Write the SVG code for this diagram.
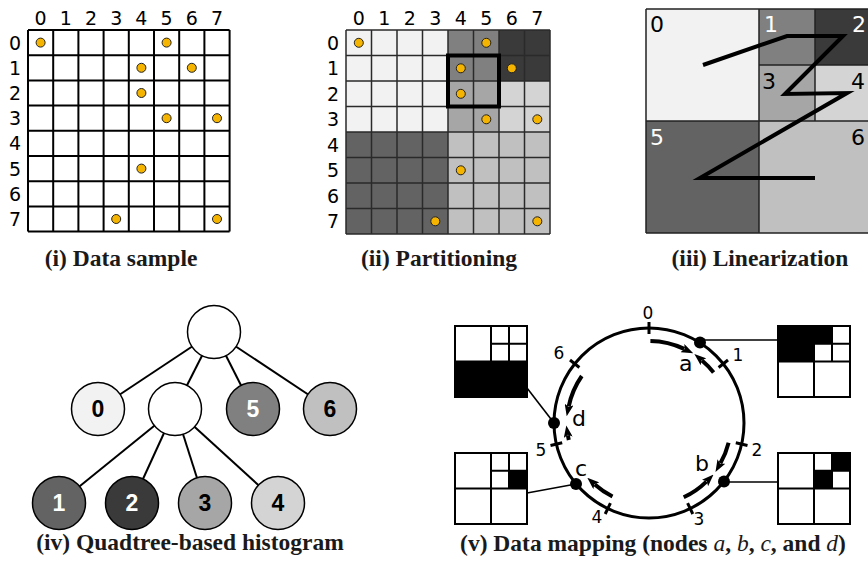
<svg xmlns="http://www.w3.org/2000/svg" width="868" height="568" viewBox="0 0 868 568">
<style>
.lbl{font-family:"DejaVu Sans",sans-serif;font-size:19px;fill:#000;text-anchor:middle}
.cap{font-family:"Liberation Serif","Times New Roman",serif;font-size:23.5px;font-weight:bold;fill:#1a1a1a;text-anchor:middle}
.dot{fill:#f5b400;stroke:#222;stroke-width:1}
.tn{stroke:#000;stroke-width:1.5}
.tt{font-family:"Liberation Sans",Arial,sans-serif;font-weight:bold;font-size:23px;text-anchor:middle}
.edge{stroke:#000;stroke-width:2;fill:none}
.q{font-family:"DejaVu Sans",sans-serif;font-size:22px}
.rl{font-family:"DejaVu Sans",sans-serif;font-size:17px;text-anchor:middle}
.nl{font-family:"DejaVu Sans",sans-serif;font-size:22px}
.arc{fill:none;stroke:#000;stroke-width:4;marker-end:url(#ah)}
.tick{stroke:#000;stroke-width:3}
.mb{fill:#fff;stroke:#000;stroke-width:2}
.conn{stroke:#000;stroke-width:1.6}
</style>
<defs>
<marker id="ah" markerUnits="userSpaceOnUse" markerWidth="12" markerHeight="9" viewBox="0 0 12 9" refX="2" refY="4.5" orient="auto">
<path d="M0,0 L12,4.5 L0,9 L2.5,4.5 z" fill="#000"/>
</marker>
</defs>
<rect width="868" height="568" fill="#fff"/>

<!-- Panel i -->
<g id="panel-i">
<rect x="28" y="30" width="201.6" height="201.6" fill="#fff"/>
<path d="M28,30V231.6M53.2,30V231.6M78.4,30V231.6M103.6,30V231.6M128.8,30V231.6M154,30V231.6M179.2,30V231.6M204.4,30V231.6M229.6,30V231.6M28,30H229.6M28,55.2H229.6M28,80.4H229.6M28,105.6H229.6M28,130.8H229.6M28,156H229.6M28,181.2H229.6M28,206.4H229.6M28,231.6H229.6" stroke="#000" stroke-width="2" fill="none"/>
<g class="lbl">
<text x="40.6" y="25">0</text><text x="65.8" y="25">1</text><text x="91" y="25">2</text><text x="116.2" y="25">3</text><text x="141.4" y="25">4</text><text x="166.6" y="25">5</text><text x="191.8" y="25">6</text><text x="217" y="25">7</text>
<text x="15" y="49.6">0</text><text x="15" y="74.8">1</text><text x="15" y="100">2</text><text x="15" y="125.2">3</text><text x="15" y="150.4">4</text><text x="15" y="175.6">5</text><text x="15" y="200.8">6</text><text x="15" y="226">7</text>
</g>
<g>
<circle class="dot" cx="40.6" cy="42.6" r="4.5"/>
<circle class="dot" cx="166.6" cy="42.6" r="4.5"/>
<circle class="dot" cx="141.4" cy="67.8" r="4.5"/>
<circle class="dot" cx="191.8" cy="67.8" r="4.5"/>
<circle class="dot" cx="141.4" cy="93" r="4.5"/>
<circle class="dot" cx="166.6" cy="118.2" r="4.5"/>
<circle class="dot" cx="217" cy="118.2" r="4.5"/>
<circle class="dot" cx="141.4" cy="168.6" r="4.5"/>
<circle class="dot" cx="116.2" cy="219" r="4.5"/>
<circle class="dot" cx="217" cy="219" r="4.5"/>
</g>
<text class="cap" x="121" y="266">(i) Data sample</text>
</g>

<!-- Panel ii -->
<g id="panel-ii">
<rect x="346" y="30" width="102" height="102" fill="#f2f2f2"/>
<rect x="448" y="30" width="51" height="51" fill="#808080"/>
<rect x="499" y="30" width="51" height="51" fill="#3a3a3a"/>
<rect x="448" y="81" width="51" height="51" fill="#a6a6a6"/>
<rect x="499" y="81" width="51" height="51" fill="#d4d4d4"/>
<rect x="346" y="132" width="102" height="102" fill="#636363"/>
<rect x="448" y="132" width="102" height="102" fill="#c0c0c0"/>
<path d="M346,30V234M371.5,30V234M397,30V234M422.5,30V234M448,30V234M473.5,30V234M499,30V234M524.5,30V234M550,30V234M346,30H550M346,55.5H550M346,81H550M346,106.5H550M346,132H550M346,157.5H550M346,183H550M346,208.5H550M346,234H550" stroke="#2a2a2a" stroke-width="1.5" fill="none"/>
<rect x="448" y="55.5" width="51" height="51" fill="none" stroke="#000" stroke-width="4"/>
<g class="lbl">
<text x="358.8" y="25">0</text><text x="384.3" y="25">1</text><text x="409.8" y="25">2</text><text x="435.3" y="25">3</text><text x="460.8" y="25">4</text><text x="486.3" y="25">5</text><text x="511.8" y="25">6</text><text x="537.3" y="25">7</text>
<text x="333" y="49.8">0</text><text x="333" y="75.3">1</text><text x="333" y="100.8">2</text><text x="333" y="126.3">3</text><text x="333" y="151.8">4</text><text x="333" y="177.3">5</text><text x="333" y="202.8">6</text><text x="333" y="228.3">7</text>
</g>
<g>
<circle class="dot" cx="358.8" cy="42.8" r="4.5"/>
<circle class="dot" cx="486.3" cy="42.8" r="4.5"/>
<circle class="dot" cx="460.8" cy="68.3" r="4.5"/>
<circle class="dot" cx="511.8" cy="68.3" r="4.5"/>
<circle class="dot" cx="460.8" cy="93.8" r="4.5"/>
<circle class="dot" cx="486.3" cy="119.3" r="4.5"/>
<circle class="dot" cx="537.3" cy="119.3" r="4.5"/>
<circle class="dot" cx="460.8" cy="170.3" r="4.5"/>
<circle class="dot" cx="435.3" cy="221.3" r="4.5"/>
<circle class="dot" cx="537.3" cy="221.3" r="4.5"/>
</g>
<text class="cap" x="439" y="266">(ii) Partitioning</text>
</g>

<!-- Panel iii -->
<g id="panel-iii">
<rect x="646" y="9" width="113" height="112" fill="#f2f2f2"/>
<rect x="759" y="9" width="56" height="56" fill="#808080"/>
<rect x="815" y="9" width="56" height="56" fill="#3a3a3a"/>
<rect x="759" y="65" width="56" height="56" fill="#a6a6a6"/>
<rect x="815" y="65" width="56" height="56" fill="#d4d4d4"/>
<rect x="646" y="121" width="113" height="112" fill="#636363"/>
<rect x="759" y="121" width="112" height="112" fill="#c0c0c0"/>
<path d="M646,9H871M646,121H871M646,233H871M646,9V233M759,9V233M815,9V121M759,65H871" stroke="#222" stroke-width="1.5" fill="none"/>
<text class="q" x="650" y="32" fill="#000">0</text>
<text class="q" x="764" y="32" fill="#fff">1</text>
<text class="q" x="852" y="32" fill="#fff">2</text>
<text class="q" x="762" y="89" fill="#000">3</text>
<text class="q" x="851" y="89" fill="#000">4</text>
<text class="q" x="650" y="145" fill="#fff">5</text>
<text class="q" x="851" y="145" fill="#000">6</text>
<polyline points="703,65 787,36 843,36 785,94 847,93 700,178 815,178" fill="none" stroke="#000" stroke-width="4" stroke-linejoin="miter"/>
<text class="cap" x="760" y="266">(iii) Linearization</text>
</g>

<!-- Panel iv: quadtree -->
<g id="panel-iv">
<g id="tree-edges">
<line class="edge" x1="214" y1="332" x2="98" y2="409"/>
<line class="edge" x1="214" y1="332" x2="175" y2="409"/>
<line class="edge" x1="214" y1="332" x2="253" y2="409"/>
<line class="edge" x1="214" y1="332" x2="330" y2="409"/>
<line class="edge" x1="175" y1="409" x2="59" y2="503"/>
<line class="edge" x1="175" y1="409" x2="132" y2="503"/>
<line class="edge" x1="175" y1="409" x2="205" y2="503"/>
<line class="edge" x1="175" y1="409" x2="278" y2="503"/>
</g>
<g id="t-root"><circle class="tn" cx="214" cy="332" r="26.5" fill="#fff"/></g>
<g id="t-0"><circle class="tn" cx="98" cy="409" r="26.5" fill="#f2f2f2"/><text class="tt" x="98" y="417" fill="#000">0</text></g>
<g id="t-mid"><circle class="tn" cx="175" cy="409" r="26.5" fill="#fff"/></g>
<g id="t-5"><circle class="tn" cx="253" cy="409" r="26.5" fill="#808080"/><text class="tt" x="253" y="417" fill="#fff">5</text></g>
<g id="t-6"><circle class="tn" cx="330" cy="409" r="26.5" fill="#c0c0c0"/><text class="tt" x="330" y="417" fill="#000">6</text></g>
<g id="t-1"><circle class="tn" cx="59" cy="503" r="26.5" fill="#636363"/><text class="tt" x="59" y="511" fill="#fff">1</text></g>
<g id="t-2"><circle class="tn" cx="132" cy="503" r="26.5" fill="#3a3a3a"/><text class="tt" x="132" y="511" fill="#fff">2</text></g>
<g id="t-3"><circle class="tn" cx="205" cy="503" r="26.5" fill="#a6a6a6"/><text class="tt" x="205" y="511" fill="#000">3</text></g>
<g id="t-4"><circle class="tn" cx="278" cy="503" r="26.5" fill="#d4d4d4"/><text class="tt" x="278" y="511" fill="#000">4</text></g>
<text class="cap" x="190" y="550">(iv) Quadtree-based histogram</text>
</g>

<!-- Panel v: data mapping -->
<g id="panel-v">
<g id="ring-connectors">
<line class="conn" x1="527" y1="388" x2="554" y2="423"/>
<line class="conn" x1="527" y1="493" x2="576" y2="484"/>
<line class="conn" x1="700" y1="340" x2="778" y2="340"/>
<line class="conn" x1="724" y1="482" x2="778" y2="482"/>
</g>
<circle cx="649" cy="423" r="95" fill="none" stroke="#000" stroke-width="3"/>
<g id="ticks">
<line class="tick" x1="649" y1="334" x2="649" y2="322"/>
<line class="tick" x1="718.6" y1="367.5" x2="728" y2="360"/>
<line class="tick" x1="735.8" y1="442.8" x2="747.5" y2="445.5"/>
<line class="tick" x1="687.6" y1="503.2" x2="692.8" y2="514"/>
<line class="tick" x1="610.4" y1="503.2" x2="605.2" y2="514"/>
<line class="tick" x1="562.2" y1="442.8" x2="550.5" y2="445.5"/>
<line class="tick" x1="579.4" y1="367.5" x2="570" y2="360"/>
</g>
<g class="rl">
<text x="648" y="319">0</text>
<text x="738" y="361">1</text>
<text x="757" y="456">2</text>
<text x="699" y="525">3</text>
<text x="597" y="523">4</text>
<text x="541" y="456">5</text>
<text x="559" y="359">6</text>
</g>
<g id="arcs">
<path class="arc" d="M650.4,341 A82,82 0 0 1 684.2,348.9"/>
<path class="arc" d="M713.6,372.5 A82,82 0 0 0 702,360.5"/>
<path class="arc" d="M728.6,442.8 A82,82 0 0 1 720.4,463.3"/>
<path class="arc" d="M683.7,497.3 A82,82 0 0 0 706.4,481.6"/>
<path class="arc" d="M612.5,496.5 A82,82 0 0 1 594.8,484.5"/>
<path class="arc" d="M581.8,376 A82,82 0 0 0 568.7,406.5"/>
<path class="arc" d="M568.8,440 A82,82 0 0 1 567.9,435.3"/>
</g>
<g id="node-a"><circle cx="700" cy="342.5" r="6"/><text class="nl" x="679" y="371">a</text>
<rect class="mb" x="778" y="326" width="72" height="71"/>
<rect x="778" y="326" width="36" height="35.5" fill="#000"/><rect x="814" y="326" width="18" height="17.75" fill="#000"/>
<path d="M814,326V397M778,361.5H850M832,326V361.5M814,343.75H850" stroke="#000" stroke-width="2" fill="none"/>
<rect x="778" y="326" width="72" height="71" fill="none" stroke="#000" stroke-width="2"/>
</g>
<g id="node-b"><circle cx="724" cy="481.5" r="6"/><text class="nl" x="695" y="471">b</text>
<rect class="mb" x="778" y="453" width="72" height="71"/>
<rect x="832" y="453" width="18" height="17.75" fill="#000"/><rect x="814" y="470.75" width="18" height="17.75" fill="#000"/>
<path d="M814,453V524M778,488.5H850M832,453V488.5M814,470.75H850" stroke="#000" stroke-width="2" fill="none"/>
<rect x="778" y="453" width="72" height="71" fill="none" stroke="#000" stroke-width="2"/>
</g>
<g id="node-c"><circle cx="576" cy="484" r="6"/><text class="nl" x="575" y="476">c</text>
<rect class="mb" x="455" y="453" width="72" height="71"/>
<rect x="509" y="470.75" width="18" height="17.75" fill="#000"/>
<path d="M491,453V524M455,488.5H527M509,453V488.5M491,470.75H527" stroke="#000" stroke-width="2" fill="none"/>
<rect x="455" y="453" width="72" height="71" fill="none" stroke="#000" stroke-width="2"/>
</g>
<g id="node-d"><circle cx="554" cy="423" r="6"/><text class="nl" x="572" y="426">d</text>
<rect class="mb" x="455" y="326" width="72" height="71"/>
<rect x="455" y="361.5" width="72" height="35.5" fill="#000"/>
<path d="M491,326V397M455,361.5H527M509,326V361.5M491,343.75H527" stroke="#000" stroke-width="2" fill="none"/>
<rect x="455" y="326" width="72" height="71" fill="none" stroke="#000" stroke-width="2"/>
</g>
<text class="cap" x="653" y="551">(v) Data mapping (nodes <tspan font-style="italic" font-weight="normal">a</tspan>, <tspan font-style="italic" font-weight="normal">b</tspan>, <tspan font-style="italic" font-weight="normal">c</tspan>, and <tspan font-style="italic" font-weight="normal">d</tspan>)</text>
</g>
</svg>
